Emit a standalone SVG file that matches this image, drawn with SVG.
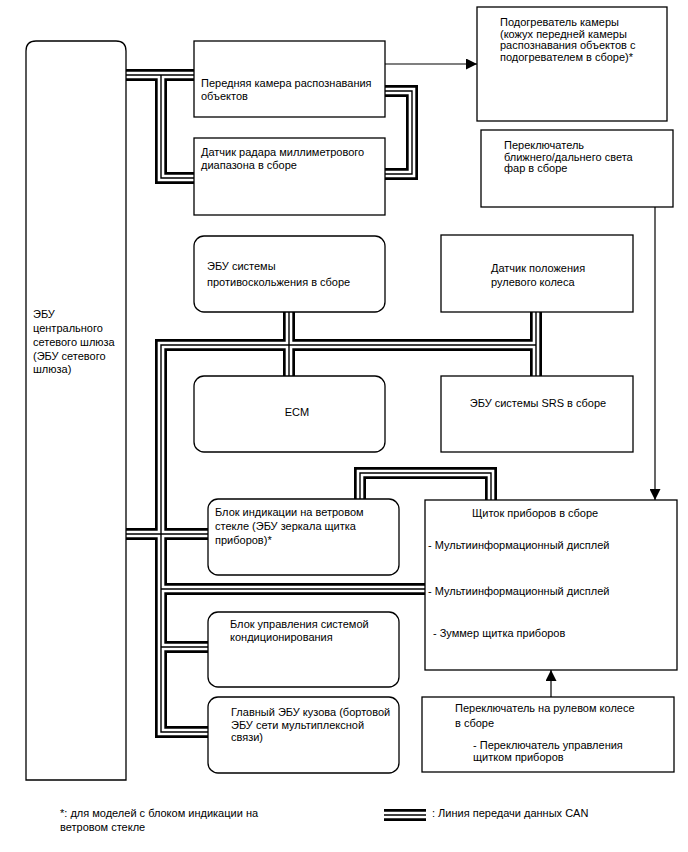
<svg xmlns="http://www.w3.org/2000/svg" width="688" height="852" viewBox="0 0 688 852">
<style>
text{font-family:"Liberation Sans",Arial,sans-serif;font-size:11px;fill:#000}
.box{fill:#fff;stroke:#000;stroke-width:1.3}
.c1{fill:none;stroke:#000;stroke-width:12}
.c2{fill:none;stroke:#fff;stroke-width:6.6}
.c3{fill:none;stroke:#000;stroke-width:1.4}
.arr{fill:none;stroke:#000;stroke-width:1.2}
</style>
<defs>
<marker id="ah" viewBox="0 0 10 10" refX="10" refY="5" markerWidth="15" markerHeight="11" markerUnits="userSpaceOnUse" orient="auto">
<path d="M0,0 L10,5 L0,10 Z" fill="#000"/>
</marker>
<path id="bus" d="M126,75 H194 M161,75 V178 H194 M385,91 H412 V174 H385 M289,312 V376 M536,312 V376 M536,345 H161 V732 H208 M126,534 H208 M161,589 H425 M161,647 H208 M360,499 V473 H491 V500"/>
</defs>
<g id="connectors">
<use href="#bus" class="c1"/>
<use href="#bus" class="c2"/>
<use href="#bus" class="c3"/>
<path class="arr" d="M385,64 H477" marker-end="url(#ah)"/>
<path class="arr" d="M655,207 V500" marker-end="url(#ah)"/>
<path class="arr" d="M551,697 V670" marker-end="url(#ah)"/>
</g>
<g id="gateway">
<path class="box" d="M26,780 V51 Q26,41 36,41 H116 Q126,41 126,51 V780 Z"/>
<text x="33" y="318">ЭБУ</text>
<text x="33" y="332">центрального</text>
<text x="33" y="346">сетевого шлюза</text>
<text x="33" y="360">(ЭБУ сетевого</text>
<text x="33" y="373">шлюза)</text>
</g>
<g id="camera">
<rect class="box" x="194" y="41" width="191" height="76"/>
<text x="201" y="87">Передняя камера распознавания</text>
<text x="201" y="100">объектов</text>
</g>
<g id="radar">
<rect class="box" x="194" y="138" width="191" height="77"/>
<text x="201" y="156">Датчик радара миллиметрового</text>
<text x="201" y="169">диапазона в сборе</text>
</g>
<g id="heater">
<rect class="box" x="477" y="7" width="190" height="114"/>
<text x="500" y="26">Подогреватель камеры</text>
<text x="500" y="38">(кожух передней камеры</text>
<text x="500" y="49">распознавания объектов с</text>
<text x="500" y="61">подогревателем в сборе)*</text>
</g>
<g id="headlight">
<rect class="box" x="481" y="130" width="192" height="77"/>
<text x="504" y="149">Переключатель</text>
<text x="504" y="161">ближнего/дальнего света</text>
<text x="504" y="172">фар в сборе</text>
</g>
<g id="abs">
<rect class="box" x="194" y="236" width="191" height="76" rx="10"/>
<text x="207" y="270">ЭБУ системы</text>
<text x="207" y="286">противоскольжения в сборе</text>
</g>
<g id="steering-sensor">
<rect class="box" x="441" y="235" width="192" height="77"/>
<text x="491" y="272">Датчик положения</text>
<text x="491" y="286">рулевого колеса</text>
</g>
<g id="ecm">
<rect class="box" x="194" y="376" width="191" height="76" rx="10"/>
<text x="297" y="416" text-anchor="middle">ECM</text>
</g>
<g id="srs">
<rect class="box" x="441" y="376" width="192" height="76"/>
<text x="538" y="407" text-anchor="middle">ЭБУ системы SRS в сборе</text>
</g>
<g id="hud">
<rect class="box" x="208" y="499" width="191" height="76" rx="10"/>
<text x="215" y="516">Блок индикации на ветровом</text>
<text x="215" y="530">стекле (ЭБУ зеркала щитка</text>
<text x="215" y="544">приборов)*</text>
</g>
<g id="meter">
<rect class="box" x="425" y="500" width="252" height="170"/>
<text x="472" y="517">Щиток приборов в сборе</text>
<text x="428" y="549">- Мультиинформационный дисплей</text>
<text x="428" y="595">- Мультиинформационный дисплей</text>
<text x="433" y="637">- Зуммер щитка приборов</text>
</g>
<g id="ac">
<rect class="box" x="208" y="612" width="191" height="75" rx="10"/>
<text x="230" y="628">Блок управления системой</text>
<text x="230" y="641">кондиционирования</text>
</g>
<g id="body-ecu">
<rect class="box" x="208" y="697" width="191" height="76" rx="10"/>
<text x="231" y="716">Главный ЭБУ кузова (бортовой</text>
<text x="231" y="729">ЭБУ сети мультиплексной</text>
<text x="231" y="741">связи)</text>
</g>
<g id="steering-switch">
<rect class="box" x="422" y="697" width="252" height="75"/>
<text x="455" y="712">Переключатель на рулевом колесе</text>
<text x="455" y="727">в сборе</text>
<text x="473" y="749">- Переключатель управления</text>
<text x="473" y="761">щитком приборов</text>
</g>
<g id="legend">
<text x="60" y="817">*: для моделей с блоком индикации на</text>
<text x="60" y="831">ветровом стекле</text>
<path class="c1" d="M384,815 H426"/>
<path class="c2" d="M384,815 H426"/>
<path class="c3" d="M384,815 H426"/>
<text x="432" y="817">: Линия передачи данных CAN</text>
</g>
</svg>
